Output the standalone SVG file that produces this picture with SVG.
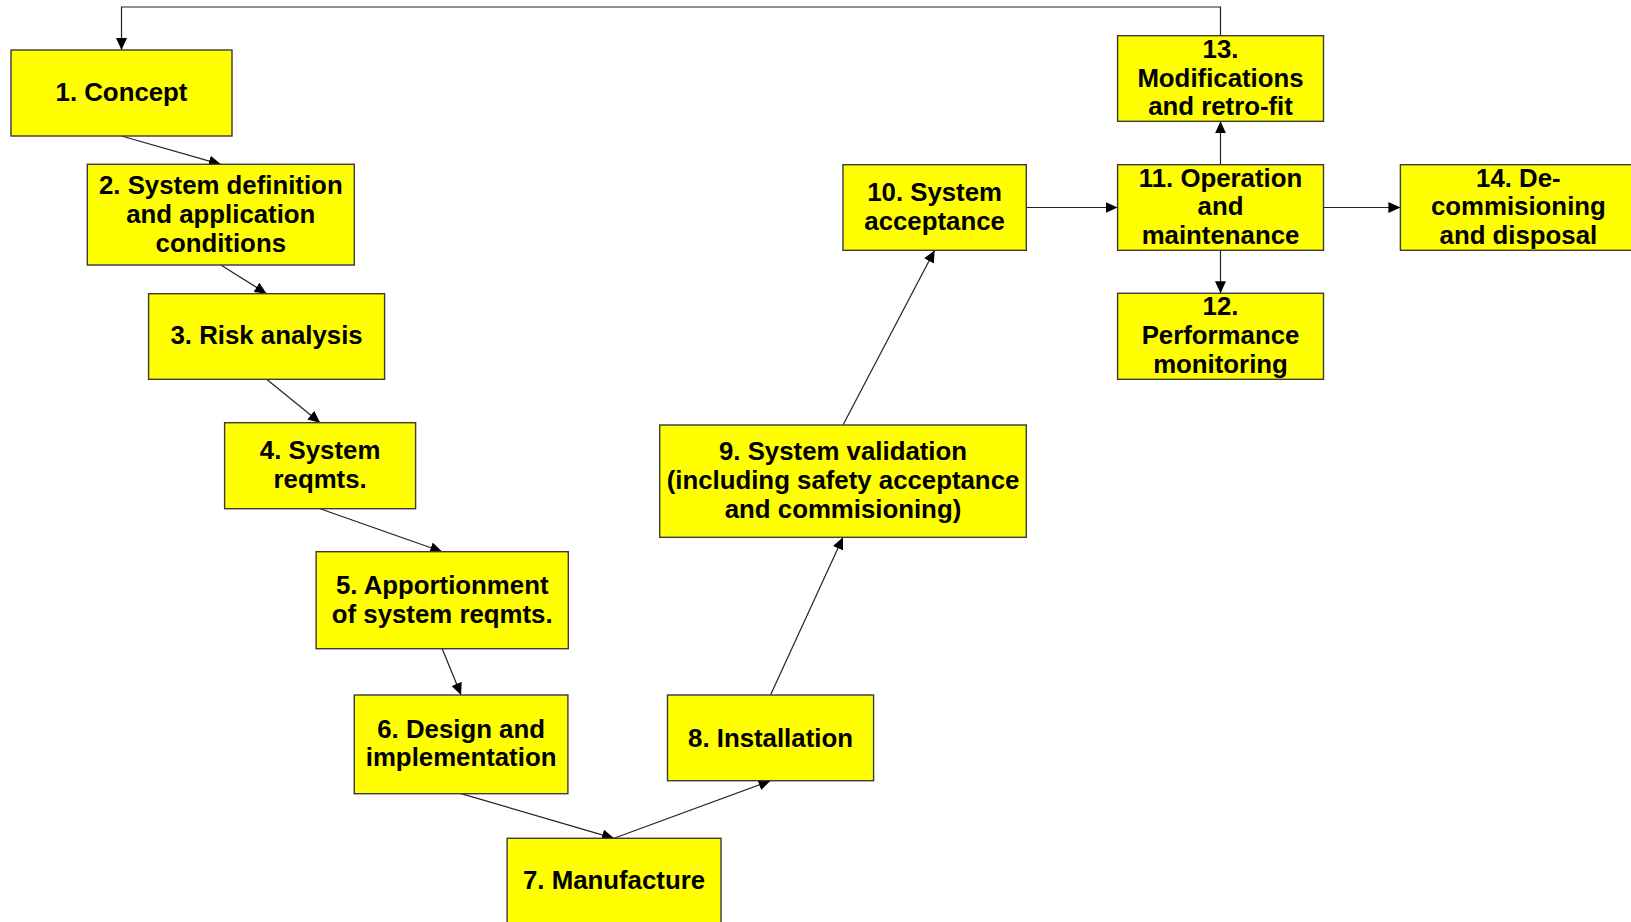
<svg xmlns="http://www.w3.org/2000/svg" width="1631" height="922" viewBox="0 0 1631 922">
<style>
.box{fill:#ffff00;stroke:#3a3a3a;stroke-width:1.4}
.lbl{font-family:"Liberation Sans",Arial,sans-serif;font-weight:bold;font-size:25.8px;fill:#000;text-anchor:middle}
.con{fill:none;stroke:#222;stroke-width:1.2}
</style>
<defs>
<marker id="ah" markerUnits="userSpaceOnUse" markerWidth="12" markerHeight="11" refX="12" refY="5.5" orient="auto">
<path d="M0,0 L12,5.5 L0,11 z" fill="#000"/>
</marker>
</defs>
<rect width="1631" height="922" fill="#fff"/>
<g id="connectors">
<line class="con" x1="121.5" y1="136" x2="220.8" y2="164.3" marker-end="url(#ah)"/>
<line class="con" x1="220.8" y1="265" x2="266.6" y2="293.7" marker-end="url(#ah)"/>
<line class="con" x1="266.6" y1="379.3" x2="320.1" y2="422.7" marker-end="url(#ah)"/>
<line class="con" x1="320.1" y1="508.7" x2="442.2" y2="551.7" marker-end="url(#ah)"/>
<line class="con" x1="442.2" y1="648.7" x2="461.1" y2="695" marker-end="url(#ah)"/>
<line class="con" x1="461.1" y1="793.7" x2="614" y2="838.3" marker-end="url(#ah)"/>
<line class="con" x1="614" y1="838.3" x2="770.5" y2="780.7" marker-end="url(#ah)"/>
<line class="con" x1="770.5" y1="695" x2="843" y2="537.3" marker-end="url(#ah)"/>
<line class="con" x1="843" y1="425" x2="934.6" y2="250.3" marker-end="url(#ah)"/>
<line class="con" x1="1026.3" y1="207.5" x2="1117.6" y2="207.5" marker-end="url(#ah)"/>
<line class="con" x1="1323.5" y1="207.5" x2="1400.4" y2="207.5" marker-end="url(#ah)"/>
<line class="con" x1="1220.5" y1="164.7" x2="1220.5" y2="121.3" marker-end="url(#ah)"/>
<line class="con" x1="1220.5" y1="250.3" x2="1220.5" y2="293.3" marker-end="url(#ah)"/>
<polyline class="con" points="1220.5,35.7 1220.5,7 121.5,7 121.5,50" marker-end="url(#ah)"/>
</g>
<g id="n1"><rect class="box" x="11" y="50" width="221" height="86"/><text class="lbl" x="121.5" y="101">1. Concept</text></g>
<g id="n2"><rect class="box" x="87.3" y="164.3" width="267" height="100.7"/><text class="lbl" x="220.8" y="193.7">2. System definition</text><text class="lbl" x="220.8" y="222.7">and application</text><text class="lbl" x="220.8" y="251.7">conditions</text></g>
<g id="n3"><rect class="box" x="148.6" y="293.7" width="236" height="85.6"/><text class="lbl" x="266.6" y="344.4">3. Risk analysis</text></g>
<g id="n4"><rect class="box" x="224.6" y="422.7" width="191" height="86"/><text class="lbl" x="320.1" y="459.2">4. System</text><text class="lbl" x="320.1" y="488">reqmts.</text></g>
<g id="n5"><rect class="box" x="316.1" y="551.7" width="252.2" height="97"/><text class="lbl" x="442.2" y="594">5. Apportionment</text><text class="lbl" x="442.2" y="622.8">of system reqmts.</text></g>
<g id="n6"><rect class="box" x="354.3" y="695" width="213.6" height="98.7"/><text class="lbl" x="461.1" y="737.6">6. Design and</text><text class="lbl" x="461.1" y="766.2">implementation</text></g>
<g id="n7"><rect class="box" x="507.1" y="838.3" width="213.9" height="86"/><text class="lbl" x="614" y="889.3">7. Manufacture</text></g>
<g id="n8"><rect class="box" x="667.5" y="695" width="206.1" height="85.7"/><text class="lbl" x="770.5" y="746.5">8. Installation</text></g>
<g id="n9"><rect class="box" x="659.7" y="425" width="366.6" height="112.3"/><text class="lbl" x="843" y="460.3">9. System validation</text><text class="lbl" x="843" y="489.1">(including safety acceptance</text><text class="lbl" x="843" y="517.9">and commisioning)</text></g>
<g id="n10"><rect class="box" x="843" y="164.7" width="183.3" height="85.6"/><text class="lbl" x="934.6" y="201">10. System</text><text class="lbl" x="934.6" y="229.8">acceptance</text></g>
<g id="n11"><rect class="box" x="1117.6" y="164.7" width="205.9" height="85.6"/><text class="lbl" x="1220.5" y="186.5">11. Operation</text><text class="lbl" x="1220.5" y="215.3">and</text><text class="lbl" x="1220.5" y="244.1">maintenance</text></g>
<g id="n12"><rect class="box" x="1117.6" y="293.3" width="205.9" height="86"/><text class="lbl" x="1220.5" y="315.3">12.</text><text class="lbl" x="1220.5" y="344.1">Performance</text><text class="lbl" x="1220.5" y="372.9">monitoring</text></g>
<g id="n13"><rect class="box" x="1117.6" y="35.7" width="205.9" height="85.6"/><text class="lbl" x="1220.5" y="57.7">13.</text><text class="lbl" x="1220.5" y="86.5">Modifications</text><text class="lbl" x="1220.5" y="115.3">and retro-fit</text></g>
<g id="n14"><rect class="box" x="1400.4" y="164.7" width="236" height="85.6"/><text class="lbl" x="1518.4" y="186.5">14. De-</text><text class="lbl" x="1518.4" y="215.3">commisioning</text><text class="lbl" x="1518.4" y="244.1">and disposal</text></g>
</svg>
